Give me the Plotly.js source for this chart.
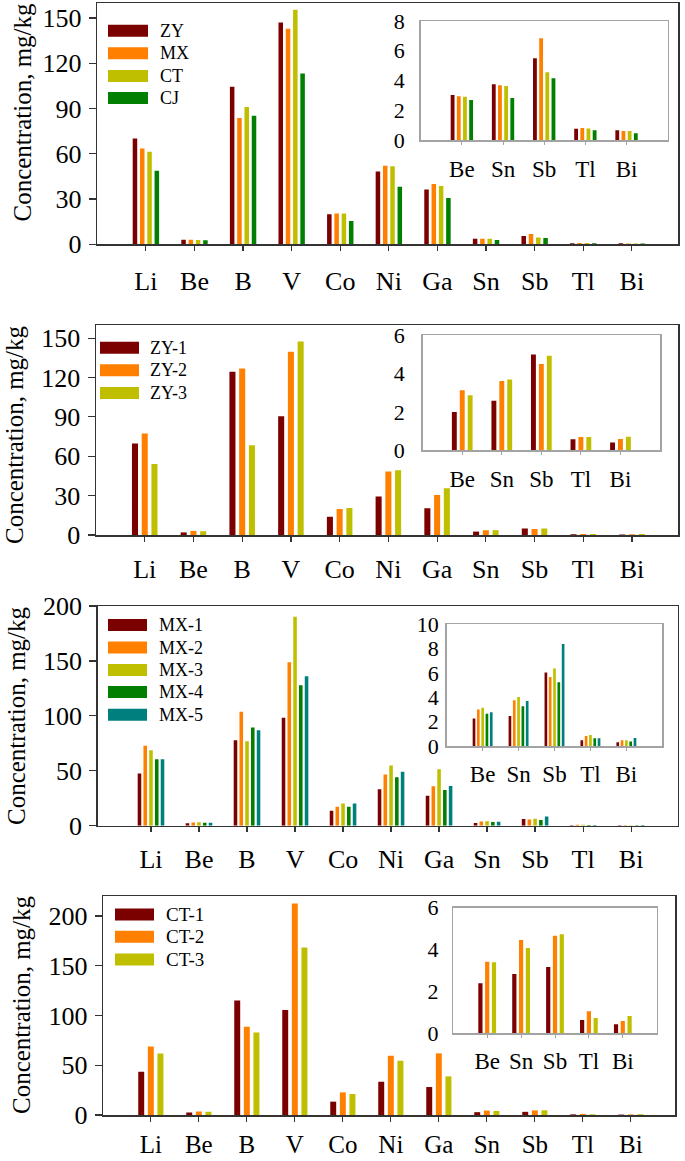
<!DOCTYPE html>
<html><head><meta charset="utf-8">
<script src="https://cdn.plot.ly/plotly-3.0.1.min.js"></script>
<style>html,body{margin:0;padding:0;background:#fff}#chart{width:685px;height:1161px}</style>
</head><body><div id="chart"></div>
<script>
// ---------- DATA ----------
const elements = ['Li','Be','B','V','Co','Ni','Ga','Sn','Sb','Tl','Bi'];
const insetElements = ['Be','Sn','Sb','Tl','Bi'];

// Panel 1: coal groups
const p1Names = ['ZY','MX','CT','CJ'];
const ZY = [70.2, 3.03, 104.4, 147.0, 19.9, 48.3, 36.4, 3.74, 5.49, 0.76, 0.65];
const MX = [63.6, 2.94, 83.7, 143.0, 20.5, 52.1, 40.0, 3.68, 6.84, 0.81, 0.60];
const CT = [61.4, 2.91, 91.0, 155.6, 20.5, 51.7, 38.6, 3.63, 4.55, 0.78, 0.60];
const CJ = [48.8, 2.69, 85.2, 113.2, 15.5, 38.2, 30.7, 2.83, 4.15, 0.65, 0.45];

// Panel 2: ZY samples
const p2Names = ['ZY-1','ZY-2','ZY-3'];
const ZY1 = [69.7, 1.99, 124.4, 90.4, 13.9, 29.4, 20.3, 2.58, 4.99, 0.57, 0.40];
const ZY2 = [77.3, 3.12, 126.9, 139.6, 19.8, 48.4, 30.4, 3.61, 4.49, 0.69, 0.59];
const ZY3 = [54.0, 2.86, 68.4, 147.5, 20.5, 49.4, 35.7, 3.69, 4.92, 0.69, 0.71];

// Panel 3: MX samples
const p3Names = ['MX-1','MX-2','MX-3','MX-4','MX-5'];
const MX1 = [47.6, 2.25, 77.7, 98.3, 13.7, 33.1, 27.3, 2.47, 6.03, 0.47, 0.30];
const MX2 = [72.8, 2.99, 103.8, 148.7, 17.3, 46.7, 35.8, 3.75, 5.67, 0.82, 0.47];
const MX3 = [68.6, 3.15, 76.8, 190.3, 20.3, 54.9, 51.3, 4.03, 6.36, 0.90, 0.47];
const MX4 = [60.4, 2.66, 89.5, 127.8, 17.3, 44.0, 32.5, 3.26, 5.23, 0.63, 0.38];
const MX5 = [60.4, 2.77, 86.8, 136.0, 20.3, 49.2, 36.1, 3.70, 8.38, 0.63, 0.66];

// Panel 4: CT samples
const p4Names = ['CT-1','CT-2','CT-3'];
const CT1 = [43.5, 2.39, 115.0, 105.4, 13.4, 33.4, 28.1, 2.83, 3.17, 0.64, 0.43];
const CT2 = [68.9, 3.42, 88.6, 212.4, 22.7, 59.5, 61.9, 4.46, 4.66, 1.05, 0.59];
const CT3 = [61.9, 3.39, 82.9, 168.2, 21.1, 54.5, 38.8, 4.07, 4.73, 0.73, 0.83];

const yTitle = 'Concentration, mg/kg';
const colors = ['#7b0000','#ff8000','#bfbf00','#007f00','#007f7f'];

// ---------- LAYOUT HELPERS ----------
const W = 685, H = 1161;
const FONT = '"Liberation Serif", "Times New Roman", serif';
const px = x => x / W;
const py = y => 1 - y / H;

const panels = [
  {names: p1Names, series: [ZY, MX, CT, CJ],
   main: {x: [97.3, 678], y: [3, 244.3], xr: [-1, 10.95], yr: [0, 160], dtick: 30, xstand: 8, xfs: 26},
   inset: {x: [420.7, 667.7], y: [21, 140], yr: [0, 8], dtick: 2, ystand: 10, xstand: 5},
   legend: {x0: 108, x1: 148, tx: 158, rows: [30.7, 53.3, 76, 98], size: 18},
   title: {x: 22, y: 112.5}},
  {names: p2Names, series: [ZY1, ZY2, ZY3],
   main: {x: [96, 678.3], y: [325, 535], xr: [-1, 10.95], yr: [0, 160], dtick: 30, xstand: 5, xfs: 26},
   inset: {x: [422.7, 660], y: [335, 450.3], yr: [0, 6], dtick: 2, ystand: 12, xstand: 5},
   legend: {x0: 100, x1: 139, tx: 148, rows: [347.7, 370.3, 393], size: 18},
   title: {x: 14, y: 435}},
  {names: p3Names, series: [MX1, MX2, MX3, MX4, MX5],
   main: {x: [97.7, 677.7], y: [606, 825.7], xr: [-1.11, 10.97], yr: [0, 200], dtick: 50, xstand: 5, xfs: 26},
   inset: {x: [446.7, 662.3], y: [624.3, 746], yr: [0, 10], dtick: 2, ystand: 2, xstand: 4},
   legend: {x0: 108, x1: 147, tx: 157, rows: [625, 647.5, 670, 692, 714.7], size: 18},
   title: {x: 16, y: 716}},
  {names: p4Names, series: [CT1, CT2, CT3],
   main: {x: [103.3, 675], y: [896, 1115], xr: [-0.99, 10.92], yr: [0, 220], dtick: 50, xstand: 1, xfs: 25},
   inset: {x: [453.3, 656.7], y: [907.7, 1033.3], yr: [0, 6], dtick: 2, ystand: 9, xstand: 4},
   legend: {x0: 115, x1: 154, tx: 164, rows: [914.5, 936.8, 959.5], size: 19},
   title: {x: 21, y: 1005}}
];

const traces = [];
const layout = {
  width: W, height: H, margin: {l: 0, r: 0, t: 0, b: 0},
  paper_bgcolor: '#fff', plot_bgcolor: 'rgba(0,0,0,0)',
  barmode: 'group', bargap: 0.4, bargroupgap: 0.38,
  showlegend: false, font: {family: FONT, color: '#000'},
  shapes: [], annotations: []
};

panels.forEach((p, i) => {
  const mi = 2 * i + 1, ii = 2 * i + 2;
  const mx = mi === 1 ? 'x' : 'x' + mi, my = mi === 1 ? 'y' : 'y' + mi;
  const ix = 'x' + ii, iy = 'y' + ii;
  const mxk = mi === 1 ? 'xaxis' : 'xaxis' + mi, myk = mi === 1 ? 'yaxis' : 'yaxis' + mi;

  p.series.forEach((vals, k) => {
    traces.push({type: 'bar', x: elements, y: vals, name: p.names[k],
      marker: {color: colors[k], line: {width: 0}}, xaxis: mx, yaxis: my, hoverinfo: 'skip'});
    traces.push({type: 'bar', x: insetElements,
      y: insetElements.map(e => vals[elements.indexOf(e)]), name: p.names[k],
      marker: {color: colors[k], line: {width: 0}}, xaxis: ix, yaxis: iy, hoverinfo: 'skip'});
  });

  layout[mxk] = {
    domain: [px(p.main.x[0]), px(p.main.x[1])], anchor: my, type: 'category',
    categoryorder: 'array', categoryarray: elements, range: p.main.xr,
    showline: true, linecolor: '#333', linewidth: 1.5, mirror: true,
    ticks: 'outside', ticklen: 5, tickwidth: 1.2, tickcolor: '#333',
    ticklabelstandoff: p.main.xstand,
    tickfont: {family: FONT, size: p.main.xfs, color: '#000'}, showgrid: false, zeroline: false
  };
  layout[myk] = {
    domain: [py(p.main.y[1]), py(p.main.y[0])], anchor: mx, range: p.main.yr,
    tickmode: 'linear', tick0: 0, dtick: p.main.dtick,
    showline: true, linecolor: '#333', linewidth: 1.5, mirror: true,
    ticks: 'outside', ticklen: 7, tickwidth: 1.2, tickcolor: '#333',
    ticklabelstandoff: 2,
    tickfont: {family: FONT, size: 26, color: '#000'}, showgrid: false, zeroline: false
  };
  layout['xaxis' + ii] = {
    domain: [px(p.inset.x[0]), px(p.inset.x[1])], anchor: iy, type: 'category',
    categoryorder: 'array', categoryarray: insetElements, range: [-1, 5],
    showline: true, linecolor: '#a3a3a3', linewidth: 1.5, mirror: true,
    ticks: 'outside', ticklen: 3, tickwidth: 1, tickcolor: '#a3a3a3',
    ticklabelstandoff: p.inset.xstand,
    tickfont: {family: FONT, size: 23, color: '#000'}, showgrid: false, zeroline: false
  };
  layout['yaxis' + ii] = {
    domain: [py(p.inset.y[1]), py(p.inset.y[0])], anchor: ix, range: p.inset.yr,
    tickmode: 'linear', tick0: 0, dtick: p.inset.dtick,
    showline: true, linecolor: '#a3a3a3', linewidth: 1.5, mirror: true,
    ticks: '', ticklabelstandoff: p.inset.ystand,
    tickfont: {family: FONT, size: 22, color: '#000'}, showgrid: false, zeroline: false
  };

  // legend (swatch + label)
  p.names.forEach((n, k) => {
    const r = p.legend.rows[k];
    layout.shapes.push({type: 'rect', xref: 'paper', yref: 'paper',
      x0: px(p.legend.x0), x1: px(p.legend.x1), y0: py(r + 6), y1: py(r - 6),
      fillcolor: colors[k], line: {width: 0}});
    layout.annotations.push({xref: 'paper', yref: 'paper', x: px(p.legend.tx), y: py(r),
      xanchor: 'left', yanchor: 'middle', showarrow: false, text: n,
      font: {family: FONT, size: p.legend.size, color: '#000'}});
  });

  // y-axis title
  layout.annotations.push({xref: 'paper', yref: 'paper', x: px(p.title.x), y: py(p.title.y),
    xanchor: 'center', yanchor: 'middle', showarrow: false, text: yTitle, textangle: -90,
    font: {family: FONT, size: 25, color: '#000'}});
});

Plotly.newPlot('chart', traces, layout, {staticPlot: true, displayModeBar: false});
</script></body></html>
